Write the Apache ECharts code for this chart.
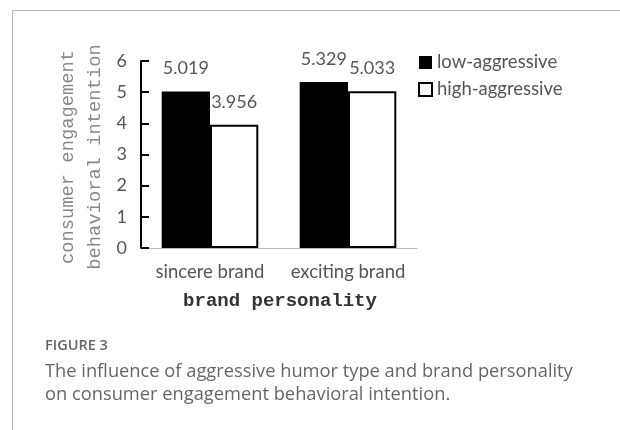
<!DOCTYPE html>
<html>
<head>
<meta charset="utf-8">
<script src="https://cdn.jsdelivr.net/npm/echarts@6/dist/echarts.min.js"></script>
<style>
html,body{margin:0;padding:0;background:#fff;}
#frame{position:absolute;left:12px;top:10px;width:608px;height:420px;border-left:1px solid #bbb;border-top:1px solid #bbb;box-sizing:border-box;}
#main{position:absolute;left:0;top:0;width:620px;height:430px;}
</style>
</head>
<body>
<div id="frame"></div>
<div id="main"></div>
<script>
var categories = ['sincere brand', 'exciting brand'];
var seriesNames = ['low-aggressive', 'high-aggressive'];
var lowValues = [5.019, 5.329];
var highValues = [3.956, 5.033];
var yTicks = { min: 0, max: 6, interval: 1 };
var yAxisTitle = 'consumer engagement\nbehavioral intention';
var xAxisTitle = 'brand personality';
var figureLabel = 'FIGURE 3';
var captionLines = ['The influence of aggressive humor type and brand personality',
                    'on consumer engagement behavioral intention.'];

var chart = echarts.init(document.getElementById('main'), null, {renderer: 'canvas'});
var labelStyle = {
  show: true, position: 'top', distance: 14,
  fontFamily: 'Lato', fontSize: 18, color: '#555',
  formatter: function (p) { return p.value.toFixed(3); }
};
chart.setOption({
  animation: false,
  backgroundColor: 'transparent',
  grid: { left: 141, right: 203, top: 61, bottom: 182 },
  legend: {
    orient: 'vertical', left: 413, top: 48, itemGap: 8,
    itemWidth: 13, itemHeight: 13, icon: 'rect',
    textStyle: { fontFamily: 'Lato', fontSize: 18.5, color: '#555' },
    data: [
      { name: seriesNames[0], itemStyle: { color: '#000', borderWidth: 0 } },
      { name: seriesNames[1], itemStyle: { color: '#fff', borderColor: '#000', borderWidth: 2 } }
    ]
  },
  xAxis: {
    type: 'category', data: categories,
    axisLine: { lineStyle: { color: '#bbb', width: 1 } },
    axisTick: { show: false },
    axisLabel: { interval: 0, hideOverlap: false, margin: 15, fontFamily: 'Lato', fontSize: 18.5, color: '#555' }
  },
  yAxis: {
    type: 'value', min: yTicks.min, max: yTicks.max, interval: yTicks.interval,
    axisLine: { show: true, lineStyle: { color: '#000', width: 2 } },
    axisTick: { show: true, inside: true, length: 8, lineStyle: { color: '#000', width: 2 } },
    splitLine: { show: false },
    axisLabel: { margin: 14, fontFamily: 'Lato', fontSize: 18, color: '#555' }
  },
  series: [
    { name: seriesNames[0], type: 'bar', data: lowValues, barGap: '0%', barCategoryGap: '30%',
      itemStyle: { color: '#000' }, label: labelStyle },
    { name: seriesNames[1], type: 'bar', data: highValues, barGap: '0%', barCategoryGap: '30%',
      itemStyle: { color: '#fff', borderColor: '#000', borderWidth: 2 }, label: labelStyle }
  ],
  graphic: [
    { type: 'text', x: 82, y: 157, rotation: Math.PI / 2,
      style: { text: yAxisTitle, fontFamily: 'Liberation Mono', fontSize: 18.8, lineHeight: 27,
               fill: '#888', align: 'center', verticalAlign: 'middle' } },
    { type: 'text', x: 280, y: 301,
      style: { text: xAxisTitle, fontFamily: 'Liberation Mono', fontWeight: 'bold', fontSize: 19,
               fill: '#333', align: 'center', verticalAlign: 'middle' } },
    { type: 'text', x: 45, y: 346,
      style: { text: figureLabel, fontFamily: 'Open Sans', fontWeight: 600, fontSize: 14.5,
               fill: '#666', align: 'left', verticalAlign: 'middle' } },
    { type: 'text', x: 45, y: 372,
      style: { text: captionLines[0], fontFamily: 'Open Sans', fontSize: 18.3,
               fill: '#666', align: 'left', verticalAlign: 'middle' } },
    { type: 'text', x: 45, y: 395,
      style: { text: captionLines[1], fontFamily: 'Open Sans', fontSize: 18.3,
               fill: '#666', align: 'left', verticalAlign: 'middle' } }
  ]
});
</script>
</body>
</html>
